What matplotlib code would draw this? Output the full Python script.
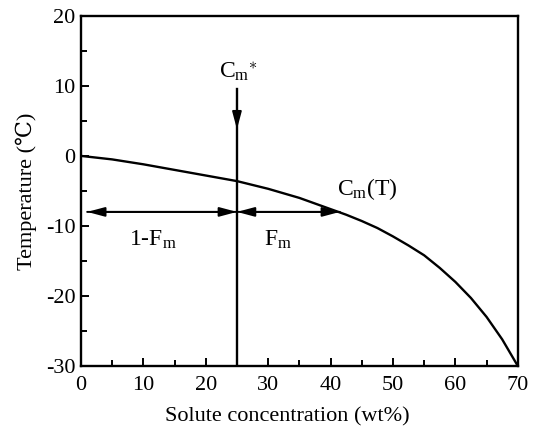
import matplotlib
matplotlib.use("Agg")
import matplotlib.pyplot as plt
from matplotlib.ticker import MultipleLocator

# freezing curve
conc = [0, 5, 10, 15, 20, 25, 30, 35, 40, 42.5, 45, 47.5, 50, 52.5, 55, 57.5, 60, 62.5, 65, 67.5, 70]
temp = [0, -0.5, -1.2, -2.0, -2.8, -3.6, -4.7, -6.0, -7.6, -8.4, -9.3, -10.3, -11.5, -12.8, -14.2,
        -16.0, -18.0, -20.3, -23.0, -26.2, -30.0]

CM_STAR = 25      # initial concentration
CM_T = 41.5       # concentration at the arrow level
T_LEVEL = -8

plt.rcParams["font.family"] = ["Liberation Serif", "DejaVu Serif"]
plt.rcParams["mathtext.fontset"] = "custom"
plt.rcParams["mathtext.rm"] = "Liberation Serif"
plt.rcParams["mathtext.it"] = "Liberation Serif"
plt.rcParams["axes.unicode_minus"] = False

fig = plt.figure(figsize=(5.36, 4.29), dpi=100)
ax = fig.add_axes([0.151, 0.147, 0.815, 0.816])

ax.plot(conc, temp, color="black", lw=1.7)
ax.plot([CM_STAR, CM_STAR], [-30, 9.5], color="black", lw=1.7)

arr = dict(arrowstyle="-|>,head_length=0.75,head_width=0.2", color="black", lw=1.4,
           mutation_scale=14, shrinkA=0, shrinkB=0)
ax.annotate("", xy=(CM_STAR, 3.8), xytext=(CM_STAR, 8), arrowprops=arr)
ax.annotate("", xy=(1, T_LEVEL), xytext=(CM_STAR, T_LEVEL), arrowprops=arr)
ax.annotate("", xy=(CM_STAR, T_LEVEL), xytext=(1, T_LEVEL), arrowprops=arr)
ax.annotate("", xy=(CM_STAR, T_LEVEL), xytext=(CM_T, T_LEVEL), arrowprops=arr)
ax.annotate("", xy=(CM_T, T_LEVEL), xytext=(CM_STAR, T_LEVEL), arrowprops=arr)

ax.text(CM_STAR + 0.2, 10.4, r"$\mathrm{C_m}^{\ast}$", ha="center", va="bottom", fontsize=17)
ax.text(11.5, -12.0, r"1-$\mathrm{F_m}$", ha="center", va="center", fontsize=17)
ax.text(31.5, -12.0, r"$\mathrm{F_m}$", ha="center", va="center", fontsize=17)
ax.text(41.0, -4.8, r"$\mathrm{C_m}$(T)", ha="left", va="center", fontsize=17)

ax.set_xlim(0, 70)
ax.set_ylim(-30, 20)
ax.xaxis.set_major_locator(MultipleLocator(10))
ax.xaxis.set_minor_locator(MultipleLocator(5))
ax.yaxis.set_major_locator(MultipleLocator(10))
ax.yaxis.set_minor_locator(MultipleLocator(5))
ax.tick_params(which="both", direction="in", labelsize=16, width=1.4)
ax.tick_params(axis="x", pad=7)
ax.tick_params(axis="y", pad=4)
ax.tick_params(which="major", length=6)
ax.tick_params(which="minor", length=4)
for s in ax.spines.values():
    s.set_linewidth(1.7)

ax.set_xlabel("Solute concentration (wt%)", fontsize=16)
ax.xaxis.set_label_coords(0.472, -0.118)
ax.set_ylabel("Temperature (\u2103)", fontsize=16, labelpad=6)

fig.savefig("out.png", dpi=100)
